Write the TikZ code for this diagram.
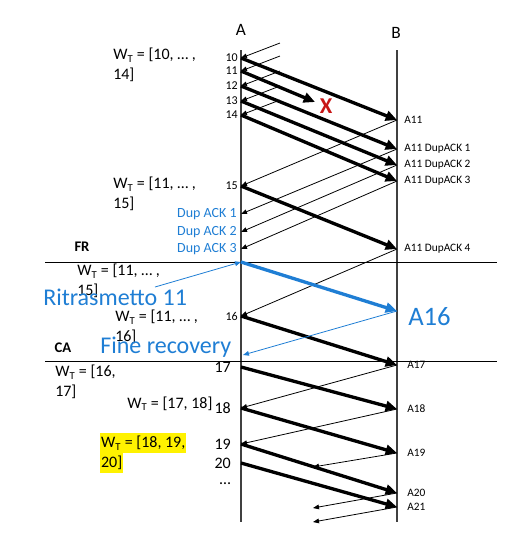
\documentclass[tikz,border=0pt]{standalone}
\usepackage{fontspec}
\setmainfont{Carlito}
\usetikzlibrary{arrows.meta}

\definecolor{ackblue}{RGB}{31,126,212}
\definecolor{lossred}{RGB}{200,22,22}

\newcommand{\WT}{W\textsubscript{T}}

\tikzset{
  seg/.style={line width=2.5pt, -{Triangle[length=8.5pt, width=7.5pt]}},
  ack/.style={line width=0.6pt, -{Triangle[length=4.5pt, width=3.5pt]}},
  num/.style={font=\fontsize{9}{10}\selectfont, inner sep=0pt, anchor=east},
  bignum/.style={font=\fontsize{12}{13}\selectfont, inner sep=0pt, anchor=east},
  lab/.style={font=\fontsize{8.5}{10}\selectfont, inner sep=0pt, anchor=west},
  dup/.style={font=\fontsize{10.5}{12}\selectfont, text=ackblue, inner sep=0pt, anchor=east},
  win/.style={font=\fontsize{12}{15}\selectfont, align=left, inner sep=0pt, anchor=west},
  highlit/.style={win, fill=yellow, text height=10.5pt, text depth=3.5pt, inner sep=0.6pt},
  note/.style={font=\fontsize{18}{20}\selectfont, text=ackblue, inner sep=0pt, anchor=west},
  phase/.style={font=\bfseries\fontsize{11}{12}\selectfont, inner sep=0pt},
}

\begin{document}
\begin{tikzpicture}[x=0.75pt, y=-0.75pt]
  \useasboundingbox (0,0) rectangle (519,558);

  % Hosts and time lines
  \node[font=\fontsize{13}{14}\selectfont] (A) at (241,30) {A};
  \node[font=\fontsize{13}{14}\selectfont] (B) at (396,33) {B};
  \coordinate (Atop) at (241,50);
  \coordinate (Abot) at (241,522);
  \coordinate (Btop) at (397,50);
  \coordinate (Bbot) at (397,522);
  \draw[black!75, line width=0.8pt] (Atop) -- (Abot);
  \draw[black!75, line width=0.8pt] (Btop) -- (Bbot);

  % Phases
  \coordinate (frL) at (45,262);
  \coordinate (frR) at (497,262);
  \coordinate (caL) at (45,361);
  \coordinate (caR) at (497,361);
  \draw[line width=0.6pt] (frL) -- (frR);
  \draw[line width=0.6pt] (caL) -- (caR);
  \node[phase] (fr) at (82,247) {FR};
  \node[phase] (ca) at (63,348) {CA};

  % Segment numbers at A
  \foreach \n/\y in {10/58, 11/71, 12/86, 13/101, 14/115, 15/186, 16/316}
    \node[num] (n\n) at (238,\y) {\n};
  \foreach \n/\y in {17/367, 18/408, 19/444, 20/463}
    \node[bignum] (n\n) at (231,\y) {\n};
  \node[bignum] (dots) at (231,484) {…};
  \node[dup] (dup1) at (237,214) {Dup ACK 1};
  \node[dup] (dup2) at (237,232) {Dup ACK 2};
  \node[dup] (dup3) at (237,249) {Dup ACK 3};

  % ACK labels at B
  \node[lab] (r11) at (404,120) {A11};
  \node[lab] (r12) at (404,149) {A11 DupACK 1};
  \node[lab] (r13) at (404,165) {A11 DupACK 2};
  \node[lab] (r14) at (404,181) {A11 DupACK 3};
  \node[lab] (r15) at (404,249) {A11 DupACK 4};
  \node[lab] (r17) at (407,365) {A17};
  \node[lab] (r18) at (407,409) {A18};
  \node[lab] (r19) at (407,453) {A19};
  \node[lab] (r20) at (407,493) {A20};
  \node[lab] (r21) at (407,507) {A21};

  % Sender windows
  \node[win] (w1) at (113,65) {\WT{} = [10, … ,\\14]};
  \node[win] (w2) at (113,194) {\WT{} = [11, … ,\\15]};
  \node[win] (w3) at (77,281) {\WT{} = [11, … ,\\15]};
  \node[win] (w4) at (115,327) {\WT{} = [11, … ,\\16]};
  \node[win] (w5) at (55,382) {\WT{} = [16,\\17]};
  \node[win] (w6) at (127,404) {\WT{} = [17, 18]};
  \node[highlit] (w7) at (100,443) {\WT{} = [18, 19,};
  \node[highlit] (w7b) at (100,463) {20]};

  % ACKs arriving before 10
  \foreach \n in {10,...,14} {
    \path (n\n.east -| Atop) ++(39,-15) coordinate (in\n);
    \draw[ack] (in\n) -- (n\n.east -| Atop);
  }

  % Segments A -> B
  \coordinate (lost) at (315,102);
  \node[text=lossred, font=\bfseries\fontsize{17}{18}\selectfont] (x) at (326,106) {X};
  \draw[seg] (n10.east -| Atop) -- (r11.west -| Btop);
  \draw[seg] (n11.east -| Atop) -- (lost);
  \draw[seg] (n12.east -| Atop) -- (r12.west -| Btop);
  \draw[seg] (n13.east -| Atop) -- (r13.west -| Btop);
  \draw[seg] (n14.east -| Atop) -- (r14.west -| Btop);
  \draw[seg] (n15.east -| Atop) -- (r15.west -| Btop);
  \draw[seg] (n16.east -| Atop) -- (r17.west -| Btop);
  \draw[seg] (n17.east -| Atop) -- (r18.west -| Btop);
  \draw[seg] (n18.east -| Atop) -- (r19.west -| Btop);
  \draw[seg] (n19.east -| Atop) -- (r20.west -| Btop);
  \draw[seg] (n20.east -| Atop) -- (r21.west -| Btop);

  % ACKs B -> A
  \draw[ack] (r11.west -| Btop) -- (n15.east -| Atop);
  \draw[ack] (r12.west -| Btop) -- (dup1.east -| Atop);
  \draw[ack] (r13.west -| Btop) -- (dup2.east -| Atop);
  \draw[ack] (r14.west -| Btop) -- (dup3.east -| Atop);
  \draw[ack] (r15.west -| Btop) -- (n16.east -| Atop);
  \draw[ack] (r17.west -| Btop) -- (n18.east -| Atop);
  \draw[ack] (r18.west -| Btop) -- (n19.east -| Atop);
  \coordinate (h19) at (313,467);
  \coordinate (h20) at (313,508);
  \coordinate (h21) at (313,522);
  \draw[ack] (r19.west -| Btop) -- (h19);
  \draw[ack] (r20.west -| Btop) -- (h20);
  \draw[ack] (r21.west -| Btop) -- (h21);

  % Fast retransmit
  \node[note] (ritx) at (43,297) {Ritrasmetto 11};
  \node[note] (fine) at (100,347) {Fine recovery};
  \node[note, font=\fontsize{20}{22}\selectfont] (a16) at (408,317) {A16};
  \coordinate (rtxfrom) at (155,287);
  \coordinate (rtxto) at (397,311);
  \coordinate (finto) at (243,355);
  \draw[seg, ackblue] (frL -| Atop) -- (rtxto);
  \draw[ack, ackblue] (rtxfrom) -- (frL -| Atop);
  \draw[ack, ackblue] (rtxto) -- (finto);

\end{tikzpicture}
\end{document}
